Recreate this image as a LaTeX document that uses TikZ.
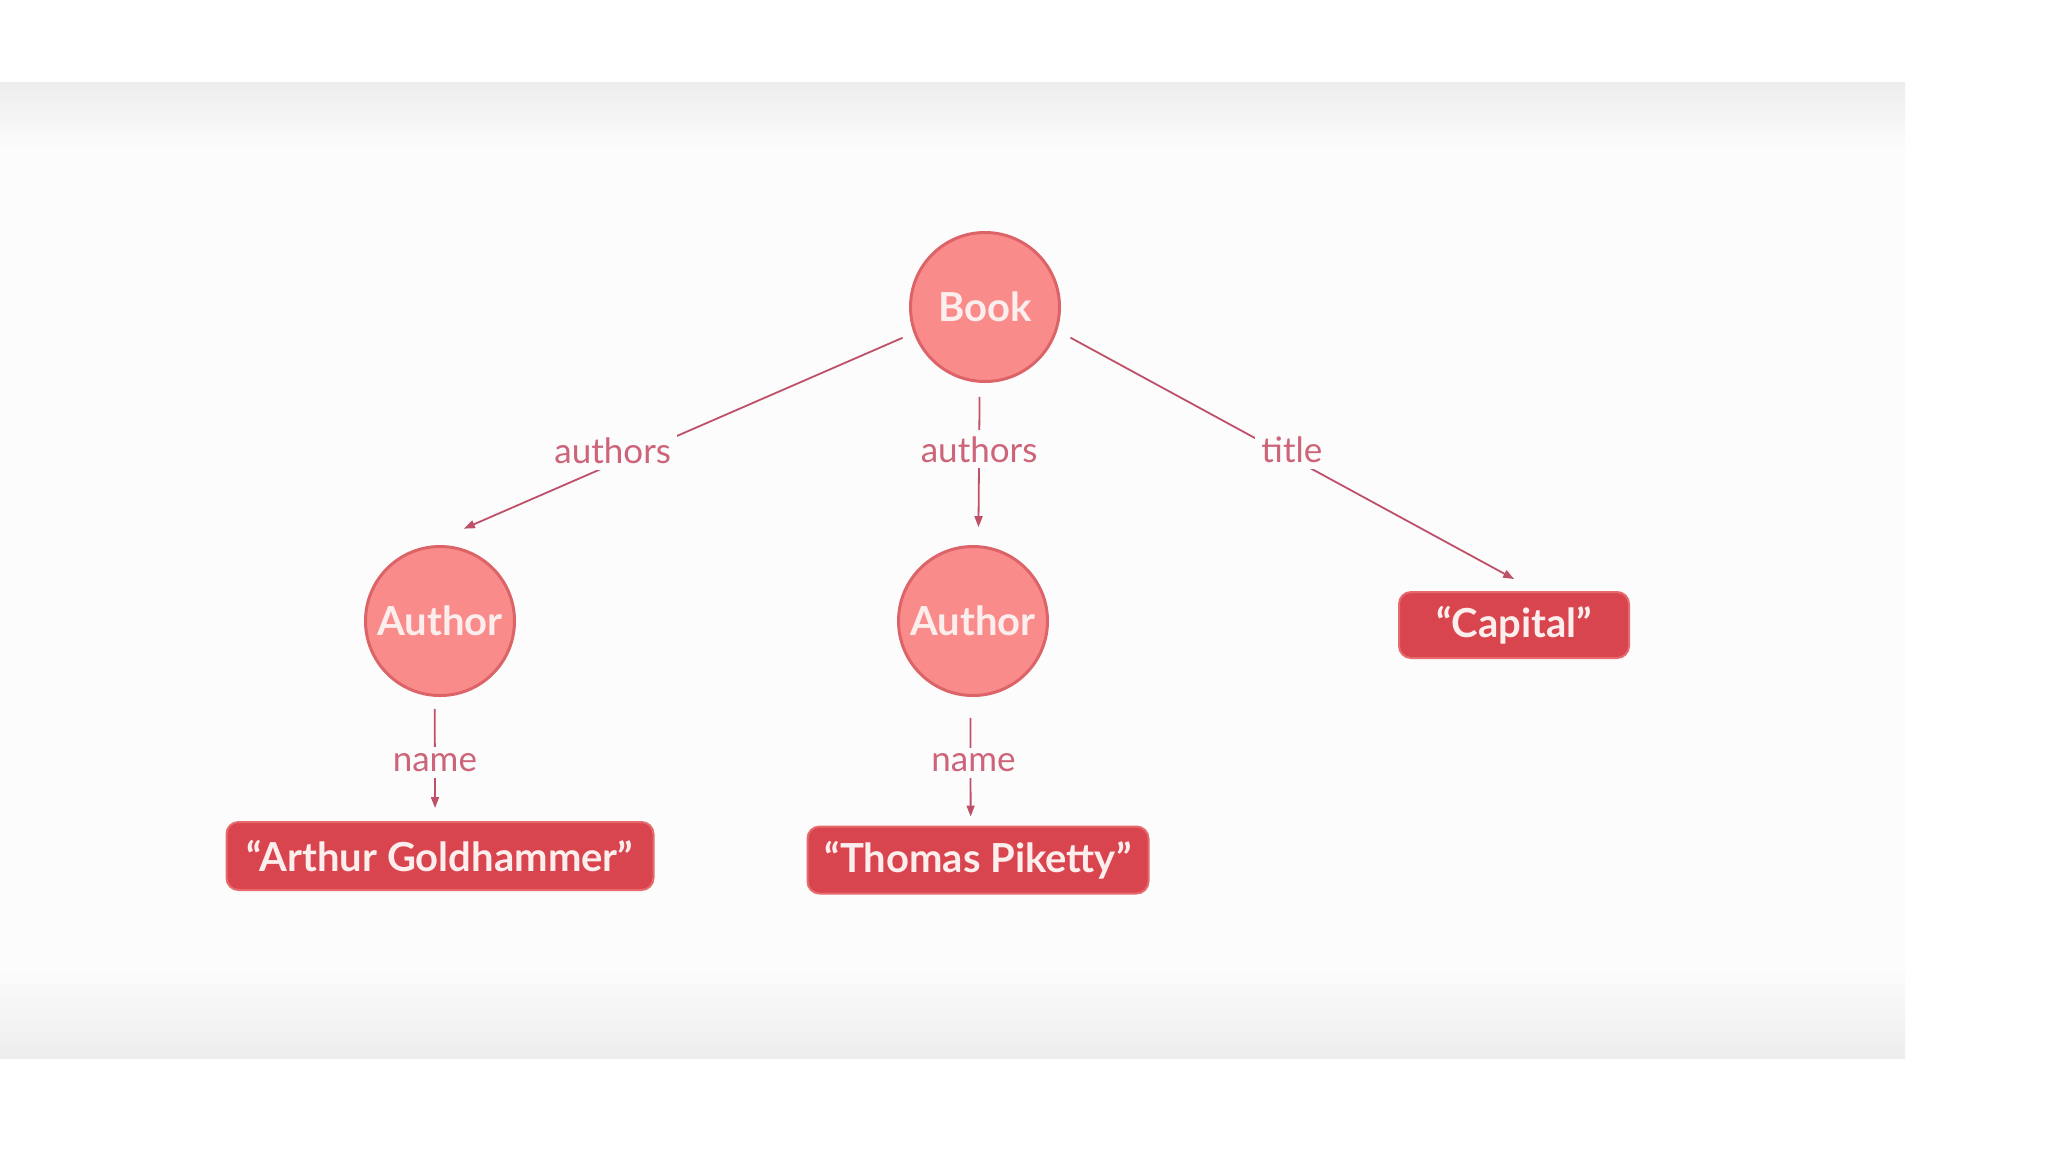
\documentclass[tikz,border=0pt]{standalone}
\usepackage{fontspec}
\setmainfont{Lato}
\usetikzlibrary{arrows.meta}
\definecolor{circfill}{HTML}{FA8B8B}
\definecolor{circline}{HTML}{DC6468}
\definecolor{boxfill}{HTML}{D9454E}
\definecolor{boxline}{HTML}{E76A6E}
\definecolor{nodetext}{HTML}{FDEEEE}
\definecolor{edgec}{HTML}{BE506A}
\definecolor{lblc}{HTML}{CD6479}
\definecolor{bandc}{HTML}{FCFCFC}
\definecolor{bandedge}{HTML}{EDEDED}
\tikzset{
  entity/.style={circle, fill=circfill, draw=circline, line width=1.5pt,
    minimum size=74.5pt, inner sep=0pt, text=nodetext,
    font=\fontsize{20}{24}\selectfont\bfseries},
  value/.style={rectangle, rounded corners=6pt, fill=boxfill, draw=boxline,
    line width=1pt, inner sep=0pt, text=nodetext,
    font=\fontsize{20}{24}\selectfont\bfseries},
  edge/.style={draw=edgec, line width=0.9pt,
    -{Triangle[length=5.5pt,width=4pt]}},
  lbl/.style={fill=bandc, text=lblc, inner sep=3pt,
    font=\fontsize{17.5}{21}\selectfont}
}
\begin{document}
\begin{tikzpicture}[x=0.5pt,y=-0.5pt]
\useasboundingbox (0,0) rectangle (2048,1152);
\fill[white] (0,0) rectangle (2048,1152);
\fill[bandc] (0,82) rectangle (1905,1058);
\shade[top color=bandedge, bottom color=bandc] (0,82) rectangle (1905,150);
\shade[top color=bandc, bottom color=bandedge] (0,968) rectangle (1905,1058);

\node[entity] (book) at (985,307) {Book};
\node[entity] (authL) at (440,621) {Author};
\node[entity] (authM) at (973,621) {Author};
\node[value, minimum width=115pt, minimum height=33pt] (cap) at (1514,625) {“Capital”};
\node[value, minimum width=213.5pt, minimum height=34pt] (boxA) at (440,856) {“Arthur Goldhammer”};
\node[value, minimum width=170.5pt, minimum height=33.5pt] (boxT) at (978,860) {“Thomas Piketty”};

\draw[edge, shorten <=6pt, shorten >=23.75pt] (book.200) -- node[lbl, pos=0.61, yshift=6.5pt] {authors} (authL.105);
\draw[edge, shorten <=7pt, shorten >=9pt] (book.266) -- node[lbl, pos=0.41] {authors} (authM.86);
\draw[edge, shorten <=7.5pt, shorten >=12.5pt] (book.-18) -- node[lbl, pos=0.49, yshift=4pt] {title} (cap.57.5);
\draw[edge, shorten <=6pt, shorten >=6.5pt] (authL.266) -- node[lbl, pos=0.51, yshift=-1.2pt] {name} (boxA.98.4);
\draw[edge, shorten <=10.5pt, shorten >=4.5pt] (authM.268) -- node[lbl, pos=0.49, yshift=-1.5pt, xshift=1.5pt] {name} (boxT.102);
\end{tikzpicture}
\end{document}
